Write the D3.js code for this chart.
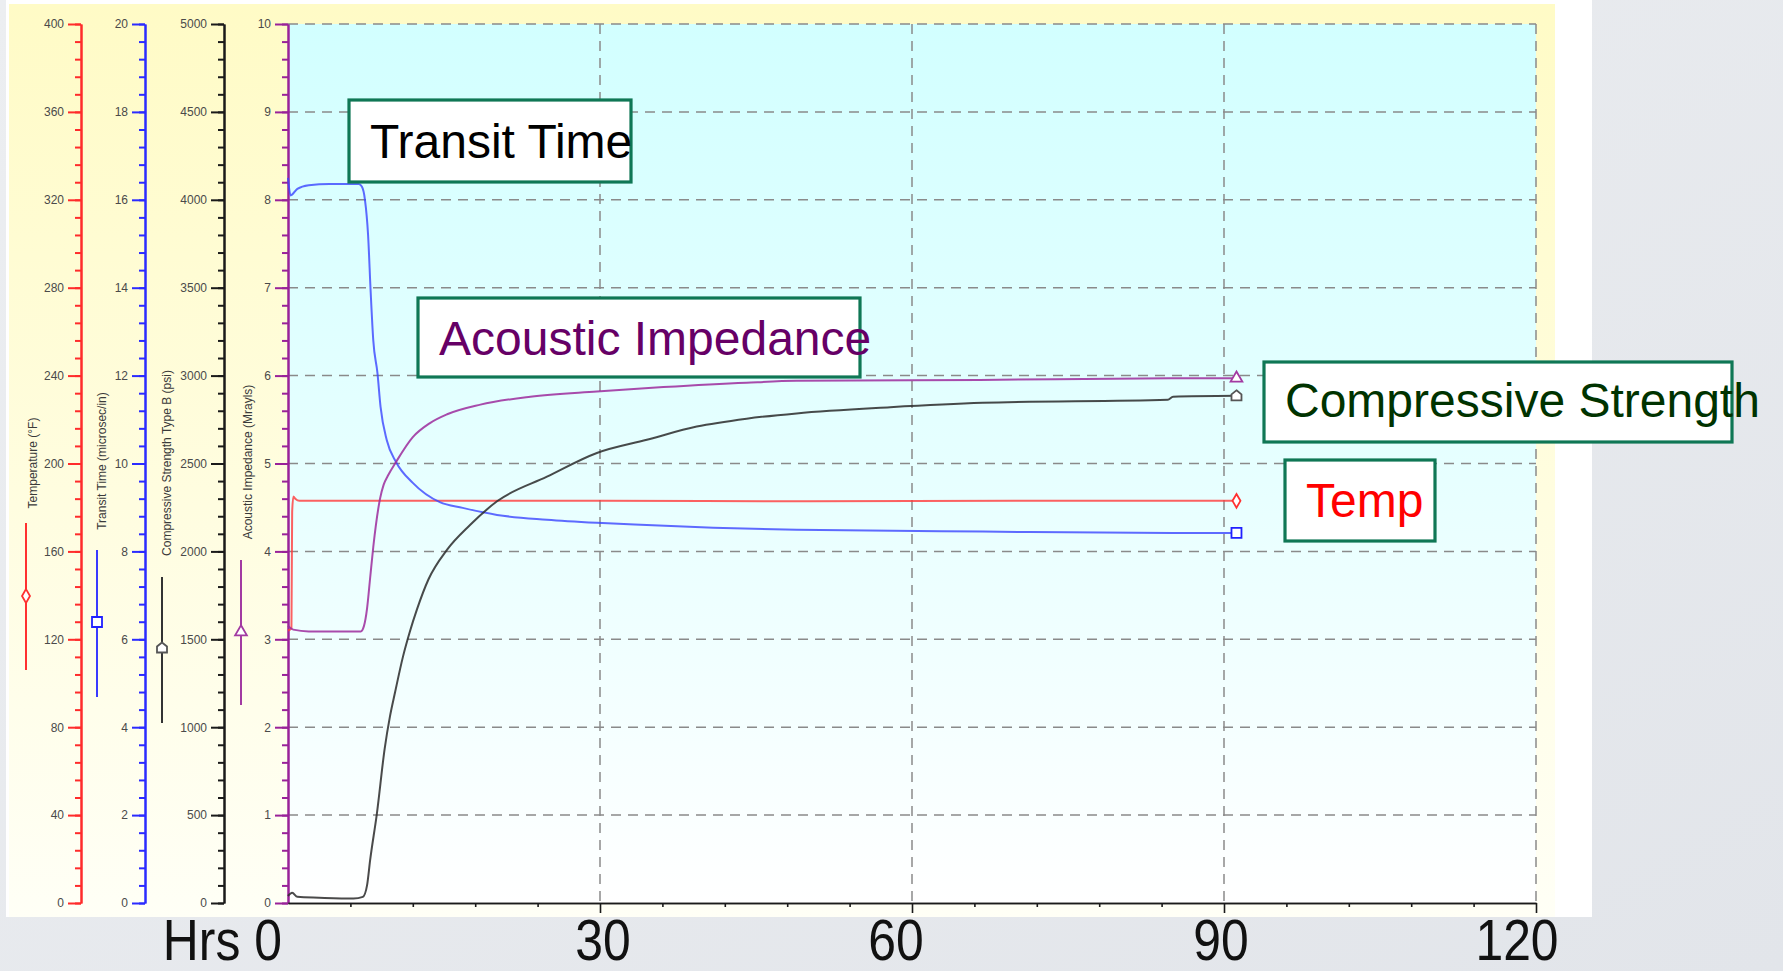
<!DOCTYPE html>
<html><head><meta charset="utf-8">
<script src="https://cdn.jsdelivr.net/npm/d3@7"></script>
<style>html,body{margin:0;padding:0;background:#e7e9ed;overflow:hidden} svg{display:block}</style>
</head><body>
<svg id="chart" width="1783" height="971"></svg>
<script>
// ---------------- DATA ----------------
const hourTicks   = [0, 30, 60, 90, 120];
const hourLabels  = ["Hrs 0", "30", "60", "90", "120"];
const minorHours  = [6,12,18,24,36,42,48,54,66,72,78,84,96,102,108,114];

const tempTicks = [0,40,80,120,160,200,240,280,320,360,400];
const ttTicks   = [0,2,4,6,8,10,12,14,16,18,20];
const csTicks   = [0,500,1000,1500,2000,2500,3000,3500,4000,4500,5000];
const aiTicks   = [0,1,2,3,4,5,6,7,8,9,10];

// [hours, °F]
const temperatureF = [[0,124],[0.33,125],[0.4,178],[0.52,185],[0.7,184],[1.1,183],[10,183],[30,183],[50,182.8],[70,183],[91.2,183]];
// [hours, microsec/in]
const transitTime = [[0,16.5],[0.25,16.1],[0.9,16.25],[2,16.33],[4,16.36],[6.8,16.36],[7.1,16.3],[7.4,16.0],[7.7,15.2],[7.95,13.9],[8.2,12.8],[8.6,12.06],[8.9,11.29],[9.5,10.53],[10.4,10.03],[12.0,9.56],[14.6,9.12],[16.8,8.99],[20.1,8.83],[24.9,8.72],[29.7,8.65],[34.5,8.6],[40.9,8.54],[48.9,8.49],[66.8,8.45],[85.1,8.42],[91.2,8.42]];
// [hours, psi]
const compressiveStrength = [[0,40],[0.4,58],[0.9,35],[3,30],[6.3,25],[7.2,35],[7.6,100],[7.9,245],[8.55,510],[9.3,880],[9.8,1060],[10.3,1200],[11.05,1400],[11.7,1540],[12.4,1670],[13.5,1840],[15.3,2010],[17.5,2150],[20.1,2285],[24.9,2425],[29.7,2560],[34.5,2635],[39.3,2710],[44.1,2755],[48.9,2785],[57.9,2820],[66.8,2845],[84.6,2862],[85.1,2880],[91.2,2885]];
// [hours, Mrayls]
const acousticImpedance = [[0,3.15],[0.5,3.11],[2,3.09],[7.0,3.09],[7.3,3.15],[7.6,3.35],[7.9,3.7],[8.2,4.05],[8.85,4.6],[9.2,4.76],[9.6,4.86],[10.4,5.02],[12.0,5.3],[13.65,5.46],[15.3,5.56],[18.5,5.67],[23.3,5.76],[29.7,5.82],[36.1,5.87],[44.1,5.92],[48.9,5.94],[66.5,5.95],[84.8,5.97],[91.2,5.97]];

const axisTitles = ["Temperature (°F)", "Transit Time (microsec/in)", "Compressive Strength Type B (psi)", "Acoustic Impedance (Mrayls)"];
const annotationTexts = ["Transit Time", "Acoustic Impedance", "Compressive Strength", "Temp"];

// ---------------- LAYOUT ----------------
const W = 1783, H = 971;
const P = {left: 288, right: 1536, top: 24, bottom: 903};
const FONT = "'Liberation Sans', Arial, Helvetica, sans-serif";

const svg = d3.select("#chart");
const defs = svg.append("defs");

const gy = defs.append("linearGradient").attr("id","yel").attr("x1",0).attr("y1",0).attr("x2",0).attr("y2",1);
gy.append("stop").attr("offset","0%").attr("stop-color","#fffbc6");
gy.append("stop").attr("offset","55%").attr("stop-color","#fffde0");
gy.append("stop").attr("offset","100%").attr("stop-color","#fffff6");
const gc = defs.append("linearGradient").attr("id","cyan").attr("x1",0).attr("y1",0).attr("x2",0).attr("y2",1);
gc.append("stop").attr("offset","0%").attr("stop-color","#d2ffff");
gc.append("stop").attr("offset","50%").attr("stop-color","#e6ffff");
gc.append("stop").attr("offset","100%").attr("stop-color","#ffffff");
const gb = defs.append("linearGradient").attr("id","bg").attr("x1",0).attr("y1",0).attr("x2",1).attr("y2",1);
gb.append("stop").attr("offset","0%").attr("stop-color","#eceef1");
gb.append("stop").attr("offset","100%").attr("stop-color","#e2e5ea");
defs.append("clipPath").attr("id","plotclip").append("rect")
  .attr("x",P.left-1).attr("y",P.top-2).attr("width",P.right-P.left+12).attr("height",P.bottom-P.top+3);

// backgrounds
svg.append("rect").attr("width",W).attr("height",H).attr("fill","url(#bg)");
svg.append("rect").attr("x",6).attr("y",0).attr("width",1592-6).attr("height",917).attr("fill","#ffffff");
svg.append("rect").attr("x",9).attr("y",4).attr("width",1555-9).attr("height",917-4).attr("fill","url(#yel)");
svg.append("rect").attr("x",P.left).attr("y",P.top).attr("width",P.right-P.left).attr("height",P.bottom-P.top).attr("fill","url(#cyan)");

// scales
const x   = d3.scaleLinear().domain([0,120]).range([P.left,P.right]);
const yT  = d3.scaleLinear().domain([0,400]).range([P.bottom,P.top]);
const yTT = d3.scaleLinear().domain([0,20]).range([P.bottom,P.top]);
const yCS = d3.scaleLinear().domain([0,5000]).range([P.bottom,P.top]);
const yAI = d3.scaleLinear().domain([0,10]).range([P.bottom,P.top]);

// gridlines
const grid = svg.append("g").attr("stroke","#8a8a8a").attr("stroke-width",1.5).attr("stroke-dasharray","10,7").attr("fill","none");
grid.selectAll("line.h").data(aiTicks.filter(v=>v>0)).join("line")
  .attr("x1",P.left).attr("x2",P.right).attr("y1",d=>yAI(d)).attr("y2",d=>yAI(d));
grid.selectAll("line.v").data(hourTicks.filter(v=>v>0)).join("line")
  .attr("x1",d=>x(d)).attr("x2",d=>x(d)).attr("y1",P.top).attr("y2",P.bottom);

// y axes
function drawYAxis(scale, xpos, color, majors){
  const max = majors[majors.length-1];
  const minors = d3.range(0,51).map(i=>i*max/50);
  const g1 = svg.append("g").attr("transform",`translate(${xpos},0)`)
    .call(d3.axisLeft(scale).tickValues(minors).tickSize(6).tickFormat("").tickSizeOuter(0));
  const g2 = svg.append("g").attr("transform",`translate(${xpos},0)`)
    .call(d3.axisLeft(scale).tickValues(majors).tickSize(13).tickSizeOuter(0).tickPadding(4).tickFormat(d3.format("d")));
  [g1,g2].forEach(g=>{
    g.selectAll("path,line").attr("stroke",color).attr("stroke-width",2);
    g.selectAll("text").attr("fill","#4a4a4a").style("font-family",FONT).style("font-size","12px");
  });
}
drawYAxis(yT, 81, "#ff2b2b", tempTicks);
drawYAxis(yTT, 145, "#2b2bff", ttTicks);
drawYAxis(yCS, 224, "#1a1a1a", csTicks);
drawYAxis(yAI, P.left, "#992299", aiTicks);

// x axis
const gx1 = svg.append("g").attr("transform",`translate(0,${P.bottom})`)
  .call(d3.axisBottom(x).tickValues(minorHours).tickSize(4).tickFormat("").tickSizeOuter(0));
const gx2 = svg.append("g").attr("transform",`translate(0,${P.bottom})`)
  .call(d3.axisBottom(x).tickValues(hourTicks.filter(v=>v>0)).tickSize(10).tickFormat("").tickSizeOuter(0));
[gx1,gx2].forEach(g=>g.selectAll("path,line").attr("stroke","#1a1a1a").attr("stroke-width",1.6));

// axis titles + legend keys
const titleX = [37, 106, 171, 252];
const titleY = [463, 461, 463, 462];
const keyX   = [26, 97, 162, 241];
const keyY   = [[523,670,596],[550,697,622],[577,723,648],[560,705,632]];
const colors = ["#ff3030","#3a3aff","#333333","#a23aa2"];
const markerStroke = ["#ff3030","#2020ff","#555555","#a23aa2"];

const housePath = "M0,-5.5L5,-1.5L5,4.5L-5,4.5L-5,-1.5Z";
const markers = [
  d3.symbol().type(d3.symbolDiamond).size(55)(),
  d3.symbol().type(d3.symbolSquare).size(100)(),
  housePath,
  d3.symbol().type(d3.symbolTriangle).size(60)()
];

axisTitles.forEach((t,i)=>{
  svg.append("text").attr("transform",`translate(${titleX[i]},${titleY[i]}) rotate(-90)`)
    .attr("text-anchor","middle").attr("fill","#3a3a3a").style("font-family",FONT).style("font-size","12px").text(t);
  svg.append("line").attr("x1",keyX[i]).attr("x2",keyX[i]).attr("y1",keyY[i][0]).attr("y2",keyY[i][1])
    .attr("stroke",colors[i]).attr("stroke-width",2);
  svg.append("path").attr("d",markers[i]).attr("transform",`translate(${keyX[i]},${keyY[i][2]})`)
    .attr("fill","#fff").attr("stroke",markerStroke[i]).attr("stroke-width",1.8);
});

// series
const series = [
  {data: temperatureF, y: yT, color: "#ff3a3a", op: 0.8},
  {data: transitTime, y: yTT, color: "#3a45ff", op: 0.8},
  {data: compressiveStrength, y: yCS, color: "#2a2a2a", op: 0.85},
  {data: acousticImpedance, y: yAI, color: "#9c2c9c", op: 0.85}
];
const lines = svg.append("g").attr("clip-path","url(#plotclip)");
series.forEach((s,i)=>{
  const line = d3.line().x(d=>x(d[0])).y(d=>s.y(d[1])).curve(d3.curveMonotoneX);
  lines.append("path").datum(s.data).attr("d",line).attr("fill","none")
    .attr("stroke",s.color).attr("stroke-width",2).attr("stroke-opacity",s.op).attr("stroke-linejoin","round");
});
series.forEach((s,i)=>{
  const last = s.data[s.data.length-1];
  svg.append("path").attr("d",markers[i]).attr("transform",`translate(${x(last[0])},${s.y(last[1])})`)
    .attr("fill","#fff").attr("stroke",markerStroke[i]).attr("stroke-width",1.8);
});

// annotation boxes
const boxes = [
  {x:349, y:100, w:282, h:82, tx:370, ty:158, color:"#000000"},
  {x:418, y:298, w:442, h:79, tx:439, ty:355, color:"#660066"},
  {x:1264, y:362, w:468, h:80, tx:1285, ty:417, color:"#003300"},
  {x:1285, y:460, w:150, h:81, tx:1306, ty:517, color:"#ff0000"}
];
boxes.forEach((b,i)=>{
  svg.append("rect").attr("x",b.x).attr("y",b.y).attr("width",b.w).attr("height",b.h)
    .attr("fill","#fff").attr("stroke","#0f7755").attr("stroke-width",3.2);
  svg.append("text").attr("x",b.tx).attr("y",b.ty).attr("fill",b.color)
    .style("font-family",FONT).style("font-size","48px").text(annotationTexts[i]);
});

// hour labels (slide text)
const labelDx = [-6, 3, -16, -3, -19];
const labelAnchor = ["end","middle","middle","middle","middle"];
hourTicks.forEach((h,i)=>{
  svg.append("text").attr("transform",`translate(${x(h)+labelDx[i]},960) scale(0.86,1)`)
    .attr("text-anchor",labelAnchor[i]).attr("fill","#111")
    .style("font-family",FONT).style("font-size","58px").text(hourLabels[i]);
});
</script>
</body></html>
